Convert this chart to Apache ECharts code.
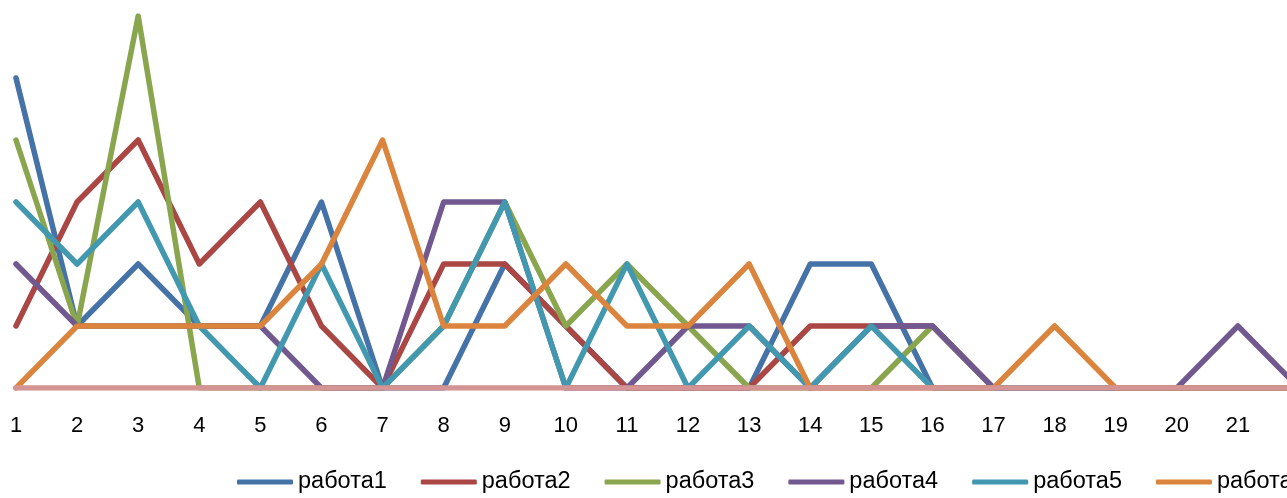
<!DOCTYPE html>
<html>
<head>
<meta charset="utf-8">
<script src="https://cdn.jsdelivr.net/npm/echarts@6/dist/echarts.min.js"></script>
<style>html,body{margin:0;padding:0;background:#fff;}#c{width:1287px;height:498px;}</style>
</head>
<body>
<div id="c"></div>
<script>
var categories = ['1','2','3','4','5','6','7','8','9','10','11','12','13','14','15','16','17','18','19','20','21','22'];
var seriesNames = ['работа1','работа2','работа3','работа4','работа5','работа6','работа7'];
var rabota1 = [5,1,2,1,1,3,0,0,2,1,0,0,0,2,2,0,0,0,0,0,0,0];
var rabota2 = [1,3,4,2,3,1,0,2,2,1,0,0,0,1,1,1,0,0,0,0,0,0];
var rabota3 = [4,1,6,0,0,0,0,1,3,1,2,1,0,0,0,1,0,0,0,0,0,0];
var rabota4 = [2,1,1,1,1,0,0,3,3,0,0,1,1,0,1,1,0,0,0,0,1,0];
var rabota5 = [3,2,3,1,0,2,0,1,3,0,2,0,1,0,1,0,0,0,0,0,0,0];
var rabota6 = [0,1,1,1,1,2,4,1,1,2,1,1,2,0,0,0,0,1,0,0,0,0];
var rabota7 = [0,0,0,0,0,0,0,0,0,0,0,0,0,0,0,0,0,0,0,0,0,0];
var colors = ['#4572A7','#AA4643','#89A54E','#71588F','#4198AF','#DB843D','#D49494'];
var allData = [rabota1, rabota2, rabota3, rabota4, rabota5, rabota6, rabota7];

var FONT = 'Liberation Sans';
var chart = echarts.init(document.getElementById('c'));
chart.setOption({
  animation: false,
  color: colors,
  grid: { left: 16, right: -12, top: 16, bottom: 110, containLabel: false, outerBoundsMode: 'none' },
  xAxis: {
    type: 'category',
    data: categories,
    boundaryGap: false,
    axisLine: { show: true, lineStyle: { color: '#868686', width: 3 } },
    axisTick: { show: false },
    splitLine: { show: false },
    axisLabel: { interval: 0, margin: 27, color: '#000', fontFamily: FONT, fontSize: 22 }
  },
  yAxis: {
    type: 'value', min: 0, max: 6, show: false,
    splitLine: { show: false }
  },
  legend: {
    data: seriesNames,
    left: 237, top: 470, width: 3000,
    padding: 0,
    icon: 'roundRect',
    itemWidth: 56, itemHeight: 5,
    itemGap: 34,
    textStyle: { color: '#000', fontFamily: FONT, fontSize: 23.5, width: 90 }
  },
  series: allData.map(function (d, i) {
    return {
      name: seriesNames[i],
      type: 'line',
      data: d,
      symbol: 'none',
      showSymbol: false,
      lineStyle: { width: 5.5, color: colors[i], join: 'round', cap: 'round' },
      itemStyle: { color: colors[i] },
      emphasis: { disabled: true }
    };
  })
});
</script>
</body>
</html>
